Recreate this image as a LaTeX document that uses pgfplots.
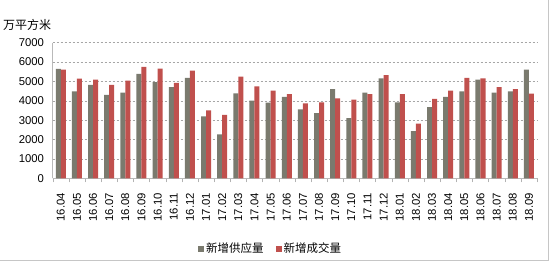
\documentclass[border=0pt]{standalone}
\usepackage{fontspec}
\setmainfont{Liberation Sans}
\newfontfamily\cjk{Noto Sans CJK SC}
\usepackage{pgfplots}
\pgfplotsset{compat=1.18}
\definecolor{gbar}{RGB}{122,122,110}
\definecolor{rbar}{RGB}{192,80,77}
\begin{document}
\begin{tikzpicture}
\useasboundingbox (-52.7pt,-82.7pt) rectangle (496.3pt,178.3pt);
\draw[gray!45] (495.8pt,178.3pt) -- (495.8pt,-82.2pt) -- (-52.7pt,-82.2pt);
\begin{axis}[
  scale only axis, width=484.3pt, height=135.6pt,
  ymin=0, ymax=7000, ytick={0,1000,...,7000},
  xmin=-0.5, xmax=29.5,
  xtick={0,...,29},
  xticklabels={16.04,16.05,16.06,16.07,16.08,16.09,16.10,16.11,16.12,17.01,17.02,17.03,17.04,17.05,17.06,17.07,17.08,17.09,17.10,17.11,17.12,18.01,18.02,18.03,18.04,18.05,18.06,18.07,18.08,18.09},
  minor xtick={-0.5,0.5,...,29.5},
  major x tick style={draw=none},
  minor x tick style={draw=gray!60},
  minor tick length=4pt,
  tick align=outside,
  ytick style={draw=none},
  axis x line*=bottom, axis y line*=left,
  axis line style={draw=gray!55,-},
  ymajorgrids,
  major grid style={draw=gray!70, dash pattern=on 2pt off 2pt},
  tick label style={font=\fontsize{11.3}{13}\selectfont},
  /pgf/number format/assume math mode=true,
  /pgf/number format/1000 sep={},
  xticklabel style={rotate=90, anchor=east},
  xticklabel shift=7pt,
  yticklabel style={xshift=-1pt},
  legend style={draw=none, at={(0.45,-0.52)}, anchor=center, font=\cjk\fontsize{11.5}{13}\selectfont, legend columns=2, /tikz/every even column/.style={column sep=10pt}},
  legend image code/.code={\fill[#1] (0pt,-3pt) rectangle (6pt,3pt);},
]
\addplot[ybar, bar width=0.31, bar shift=-0.155, fill=gbar, draw=none] coordinates {
(0,5650)(1,4490)(2,4820)(3,4300)(4,4420)(5,5390)(6,4960)(7,4700)(8,5180)(9,3200)(10,2270)(11,4390)(12,4010)(13,3910)(14,4200)(15,3560)(16,3370)(17,4600)(18,3100)(19,4420)(20,5160)(21,3920)(22,2430)(23,3670)(24,4200)(25,4490)(26,5090)(27,4420)(28,4490)(29,5610)};
\addlegendentry{新增供应量}
\addplot[ybar, bar width=0.31, bar shift=0.155, fill=rbar, draw=none] coordinates {
(0,5610)(1,5150)(2,5090)(3,4820)(4,5040)(5,5750)(6,5660)(7,4920)(8,5560)(9,3510)(10,3270)(11,5250)(12,4750)(13,4530)(14,4340)(15,3870)(16,3920)(17,4130)(18,4060)(19,4340)(20,5320)(21,4340)(22,2820)(23,4100)(24,4530)(25,5180)(26,5160)(27,4700)(28,4600)(29,4370)};
\addlegendentry{新增成交量}
\end{axis}
\node[anchor=west, inner sep=0pt, font=\cjk\fontsize{12}{14}\selectfont] at (-49.7pt,153.3pt) {万平方米};
\end{tikzpicture}
\end{document}
